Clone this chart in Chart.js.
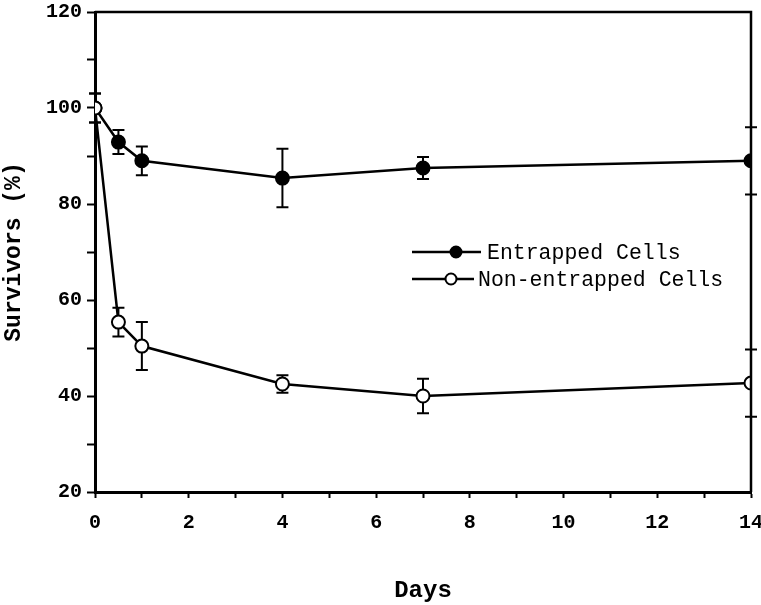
<!DOCTYPE html>
<html>
<head>
<meta charset="utf-8">
<script src="https://cdn.jsdelivr.net/npm/chart.js@4"></script>
<style>
  html, body { margin: 0; padding: 0; background: #fff; }
  #wrap { width: 761px; height: 605px; }
</style>
</head>
<body>
<div id="wrap"><canvas id="myChart"></canvas></div>
<script>
// data
const days = [0, 0.5, 1, 4, 7, 14];
const entrapped = [100, 92.9, 89, 85.4, 87.5, 89];
const entrappedErr = [3, 2.5, 3, 6.1, 2.3, 7];
const nonEntrapped = [100, 55.4, 50.4, 42.5, 40, 42.7];
const nonEntrappedErr = [3, 3, 5, 1.8, 3.6, 7];
const xTicks = [0, 2, 4, 6, 8, 10, 12, 14];
const yTicks = [20, 40, 60, 80, 100, 120];

const MONO = "'Liberation Mono', 'Courier New', monospace";

function toPoints(xs, ys) {
  return xs.map((x, i) => ({ x: x, y: ys[i] }));
}

// error bars, drawn below the markers
const errorBars = {
  id: 'errorBars',
  beforeDatasetsDraw(chart) {
    const { ctx, scales: { x, y } } = chart;
    const errs = [nonEntrappedErr, entrappedErr];
    ctx.save();
    ctx.strokeStyle = '#000';
    ctx.lineWidth = 2;
    chart.data.datasets.forEach((ds, di) => {
      ds.data.forEach((p, i) => {
        const px = x.getPixelForValue(p.x);
        const top = y.getPixelForValue(p.y + errs[di][i]);
        const bot = y.getPixelForValue(p.y - errs[di][i]);
        ctx.beginPath();
        ctx.moveTo(px, top); ctx.lineTo(px, bot);
        ctx.moveTo(px - 6, top); ctx.lineTo(px + 6, top);
        ctx.moveTo(px - 6, bot); ctx.lineTo(px + 6, bot);
        ctx.stroke();
      });
    });
    ctx.restore();
  }
};

// top and right frame lines plus the inline legend
const frameAndLegend = {
  id: 'frameAndLegend',
  afterDraw(chart) {
    const { ctx, chartArea: a } = chart;
    ctx.save();
    ctx.strokeStyle = '#000';
    ctx.lineWidth = 2.5;
    ctx.beginPath();
    ctx.moveTo(a.left, a.top); ctx.lineTo(a.right, a.top); ctx.lineTo(a.right, a.bottom);
    ctx.stroke();

    const items = [
      { ds: chart.data.datasets[1], y: 252, x0: 412, x1: 481, mx: 456, tx: 487 },
      { ds: chart.data.datasets[0], y: 279, x0: 412, x1: 474, mx: 451, tx: 478 }
    ];
    ctx.font = '21.5px ' + MONO;
    ctx.textBaseline = 'middle';
    ctx.fillStyle = '#000';
    items.forEach(it => {
      ctx.lineWidth = 2.5;
      ctx.beginPath();
      ctx.moveTo(it.x0, it.y); ctx.lineTo(it.x1, it.y);
      ctx.stroke();
      ctx.beginPath();
      ctx.arc(it.mx, it.y, it.ds.pointRadius - 1, 0, Math.PI * 2);
      ctx.fillStyle = it.ds.pointBackgroundColor;
      ctx.fill();
      ctx.lineWidth = 2;
      ctx.stroke();
      ctx.fillStyle = '#000';
      ctx.fillText(it.ds.label, it.tx, it.y + 1);
    });
    ctx.restore();
  }
};

new Chart(document.getElementById('myChart'), {
  type: 'line',
  data: {
    datasets: [
      {
        label: 'Non-entrapped Cells',
        data: toPoints(days, nonEntrapped),
        borderColor: '#000',
        borderWidth: 2.5,
        pointRadius: 6.5,
        pointBorderWidth: 2,
        pointBackgroundColor: '#fff',
        pointBorderColor: '#000',
        tension: 0,
        order: 0
      },
      {
        label: 'Entrapped Cells',
        data: toPoints(days, entrapped),
        borderColor: '#000',
        borderWidth: 2.5,
        pointRadius: 6.5,
        pointBorderWidth: 2,
        pointBackgroundColor: '#000',
        pointBorderColor: '#000',
        tension: 0,
        order: 1
      }
    ]
  },
  options: {
    responsive: true,
    maintainAspectRatio: false,
    animation: false,
    layout: { padding: { left: 0, right: 10, top: 12, bottom: 0 } },
    plugins: {
      legend: { display: false },
      tooltip: { enabled: false }
    },
    scales: {
      x: {
        type: 'linear',
        min: 0,
        max: 14,
        afterFit(s) { s.height = 113; s.paddingLeft = 0; s.paddingRight = 0; },
        border: { display: true, color: '#000', width: 3 },
        grid: { display: true, drawOnChartArea: false, drawTicks: true, tickLength: 6, tickColor: '#000', tickWidth: 2 },
        ticks: {
          stepSize: 1,
          color: '#000',
          padding: 13,
          maxRotation: 0,
          font: { family: MONO, size: 20, weight: 'bold' },
          callback: v => xTicks.includes(v) ? String(v) : ''
        },
        title: {
          display: true,
          text: 'Days',
          color: '#000',
          padding: 0,
          font: { family: MONO, size: 24, weight: 'bold' }
        }
      },
      y: {
        min: 20,
        max: 120,
        afterFit(s) { s.width = 95; s.paddingTop = 0; s.paddingBottom = 0; },
        border: { display: true, color: '#000', width: 3 },
        grid: {
          display: true, drawOnChartArea: false, drawTicks: true, tickColor: '#000', tickWidth: 2,
          tickLength: 8
        },
        ticks: {
          stepSize: 10,
          color: '#000',
          padding: 5,
          font: { family: MONO, size: 20, weight: 'bold' },
          callback: v => yTicks.includes(v) ? String(v) : ''
        },
        title: {
          display: true,
          text: 'Survivors (%)',
          color: '#000',
          padding: { top: 0, bottom: 0 },
          font: { family: MONO, size: 23, weight: 'bold' }
        }
      }
    }
  },
  plugins: [errorBars, frameAndLegend]
});
</script>
</body>
</html>
